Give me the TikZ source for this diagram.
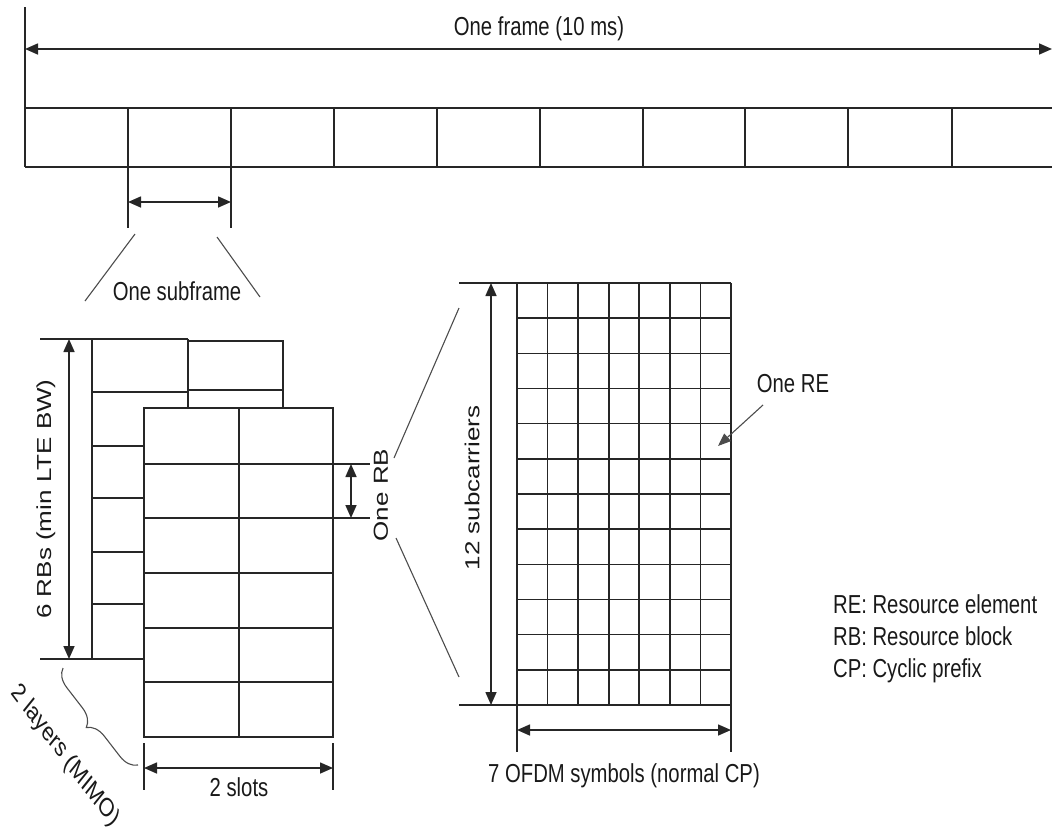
\documentclass[tikz,border=0pt]{standalone}
\usepackage{fontspec}
\setmainfont{Liberation Sans}
\usetikzlibrary{arrows.meta,decorations.pathreplacing}
\begin{document}
\begin{tikzpicture}[x=1pt,y=-1pt,
  line/.style={line width=1.6pt, draw=black!85},
  thinline/.style={line width=1.1pt, draw=black!70},
  tip/.style={Triangle[length=13pt,width=11pt]},
  dim/.style={line, {Triangle[length=13pt,width=11pt]}-{Triangle[length=13pt,width=11pt]}},
  lbl/.style={font=\fontsize{26}{28}\selectfont, inner sep=0pt, text=black!90},
  hl/.style={lbl, xscale=0.78},
  vl/.style={lbl, cm={0,1,-0.78,0,(0,0)}},
  dl/.style={lbl, cm={0.542,-0.719,0.561,0.695,(0,0)}},
]
\useasboundingbox (0,0) rectangle (1052,830);

% ---------- frame ----------
\coordinate (vtop) at (25,7);
\coordinate (fa) at (25,49);
\coordinate (fb) at (1052,49);
\coordinate (ftl) at (25,108);
\coordinate (ftr) at (1052,108);
\coordinate (fbl) at (25,167);
\coordinate (fbr) at (1052,167);
\draw[line] (vtop) -- (fbl);
\draw[dim] (fa) -- (fb);
\node[hl, anchor=base] (frame) at (539,35) {One frame (10 ms)};
\draw[line] (ftl) -- (ftr);
\draw[line] (fbl) -- (fbr);
\foreach \x in {128,231,334,437,540,643,745,848,952}
  \draw[line] (\x,108) -- (\x,167);

% ---------- subframe ----------
\coordinate (sa) at (128,167); \coordinate (sa2) at (128,228);
\coordinate (sb) at (231,167); \coordinate (sb2) at (231,228);
\draw[line] (sa) -- (sa2);
\draw[line] (sb) -- (sb2);
\coordinate (sda) at (128,202); \coordinate (sdb) at (231,202);
\draw[dim] (sda) -- (sdb);
\coordinate (sl1) at (135,234); \coordinate (sl2) at (85,301);
\coordinate (sr1) at (217,237); \coordinate (sr2) at (260,297);
\draw[thinline] (sl1) -- (sl2);
\draw[thinline] (sr1) -- (sr2);
\node[hl, anchor=base] (subframe) at (177,300) {One subframe};

% ---------- back layer ----------
\draw[line] (40,339) -- (188,339);
\draw[line] (92,339) -- (92,659);
\draw[line] (188,339) -- (188,408);
\draw[line] (92,392) -- (188,392);
\foreach \y in {446,498,552,604}
  \draw[line] (92,\y) -- (144,\y);
\draw[line] (40,659) -- (144,659);
\draw[line] (188,341) -- (283,341) -- (283,408);
\draw[line] (188,390) -- (283,390);
\coordinate (rba) at (69,339); \coordinate (rbb) at (69,659);
\draw[dim] (rba) -- (rbb);
\node[vl] (sixrb) at (46,499) {6 RBs (min LTE BW)};

% ---------- front layer ----------
\draw[line] (144,408) rectangle (333,737);
\draw[line] (239,408) -- (239,737);
\foreach \y in {464,518,573,628,682}
  \draw[line] (144,\y) -- (333,\y);

% One RB
\draw[line] (333,464) -- (370,464);
\draw[line] (333,518) -- (370,518);
\coordinate (oa) at (351,464); \coordinate (ob) at (351,518);
\draw[dim] (oa) -- (ob);
\node[vl] (onerb) at (381,495) {One RB};

% 2 slots
\coordinate (t1) at (144,743); \coordinate (t1b) at (144,790);
\coordinate (t2) at (333,743); \coordinate (t2b) at (333,790);
\draw[line] (t1) -- (t1b);
\draw[line] (t2) -- (t2b);
\coordinate (da) at (144,768); \coordinate (db) at (333,768);
\draw[dim] (da) -- (db);
\node[hl, anchor=base] (slots) at (239,796) {2 slots};

% brace and layers
\coordinate (bra) at (138,765); \coordinate (brb) at (63,668);
\draw[thinline, decorate, decoration={brace, amplitude=18pt}] (bra) -- (brb);
\node[dl] (layers) at (65,756) {2 layers (MIMO)};

% ---------- RB zoom lines ----------
\coordinate (zu1) at (394,458); \coordinate (zu2) at (459,308);
\coordinate (zl1) at (396,538); \coordinate (zl2) at (459,677);
\draw[thinline] (zu1) -- (zu2);
\draw[thinline] (zl1) -- (zl2);

% ---------- resource grid ----------
\foreach \i in {0,...,7}
  \draw[line] ({517+\i*214/7},283) -- ({517+\i*214/7},705);
\foreach \j in {0,...,12}
  \draw[line] (517,{283+\j*422/12}) -- (731,{283+\j*422/12});
\draw[line] (459,283) -- (517,283);
\draw[line] (459,705) -- (517,705);
\coordinate (ga) at (491,283); \coordinate (gb) at (491,705);
\draw[dim] (ga) -- (gb);
\node[vl] (subc) at (472,488) {12 subcarriers};

\coordinate (g1) at (517,705); \coordinate (g1b) at (517,752);
\coordinate (g2) at (731,705); \coordinate (g2b) at (731,752);
\draw[line] (g1) -- (g1b);
\draw[line] (g2) -- (g2b);
\coordinate (gda) at (517,730); \coordinate (gdb) at (731,730);
\draw[dim] (gda) -- (gdb);
\node[hl, anchor=base] (ofdm) at (624,782) {7 OFDM symbols (normal CP)};

% One RE
\node[hl, anchor=base] (re) at (793,392) {One RE};
\coordinate (rea) at (763,405);
\coordinate (reb) at (718,446);
\draw[thinline, -{Triangle[length=13pt,width=10pt]}] (rea) -- (reb);

% legend
\node[hl, anchor=base west] (lg1) at (833,613) {RE: Resource element};
\node[hl, anchor=base west] (lg2) at (833,645) {RB: Resource block};
\node[hl, anchor=base west] (lg3) at (833,677) {CP: Cyclic prefix};
\end{tikzpicture}
\end{document}
